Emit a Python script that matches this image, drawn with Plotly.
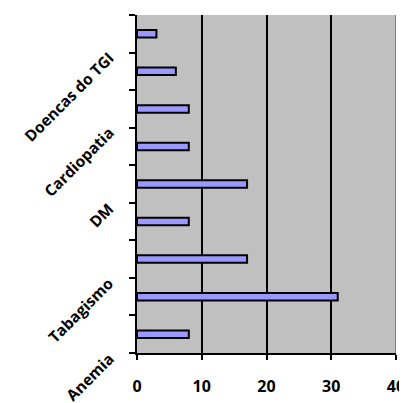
import plotly.graph_objects as go

categories = ["Anemia", "", "Tabagismo", "", "DM", "", "Cardiopatia", "", "Doencas do TGI"]
values = [8, 31, 17, 8, 17, 8, 8, 6, 3]
x_ticks = [0, 10, 20, 30, 40]
positions = list(range(len(categories)))
boundaries = [p - 0.5 for p in positions] + [positions[-1] + 0.5]

fig = go.Figure()
fig.add_trace(go.Bar(
    x=values, y=positions, orientation="h", width=0.2,
    marker=dict(color="#9999FF", line=dict(color="black", width=2)),
))
fig.update_layout(
    width=399, height=395,
    margin=dict(l=129, r=11, t=7, b=50),
    plot_bgcolor="#C0C0C0", paper_bgcolor="white",
    showlegend=False,
    xaxis=dict(range=[0, 40], tickvals=x_ticks, ticks="outside", ticklen=5,
               tickwidth=2, tickcolor="black", showgrid=True, gridcolor="black",
               gridwidth=2, showline=True, linecolor="black", linewidth=2,
               zeroline=False, ticklabelstandoff=13, automargin=False,
               tickfont=dict(family="Open Sans", size=16, color="black", weight="bold")),
    yaxis=dict(range=[-0.5, 8.5], tickvals=positions, showticklabels=False,
               ticks="", showgrid=False, zeroline=False, showline=True,
               linecolor="black", linewidth=2, automargin=False,
               minor=dict(tickvals=boundaries, ticks="outside", ticklen=6,
                          tickwidth=2, tickcolor="black", showgrid=False)),
)
for pos, label in zip(positions, categories):
    if label:
        fig.add_annotation(
            x=0, xref="paper", y=pos, yref="y", text=label, showarrow=False,
            textangle=-45, xanchor="right", yanchor="top", xshift=-16, yshift=-11,
            font=dict(family="Open Sans", size=15.5, color="black", weight="bold"),
        )
fig.add_shape(type="line", x0=40, x1=40, y0=0, y1=1, xref="x", yref="paper",
              line=dict(color="#808080", width=2))
fig.write_html("out.html")
